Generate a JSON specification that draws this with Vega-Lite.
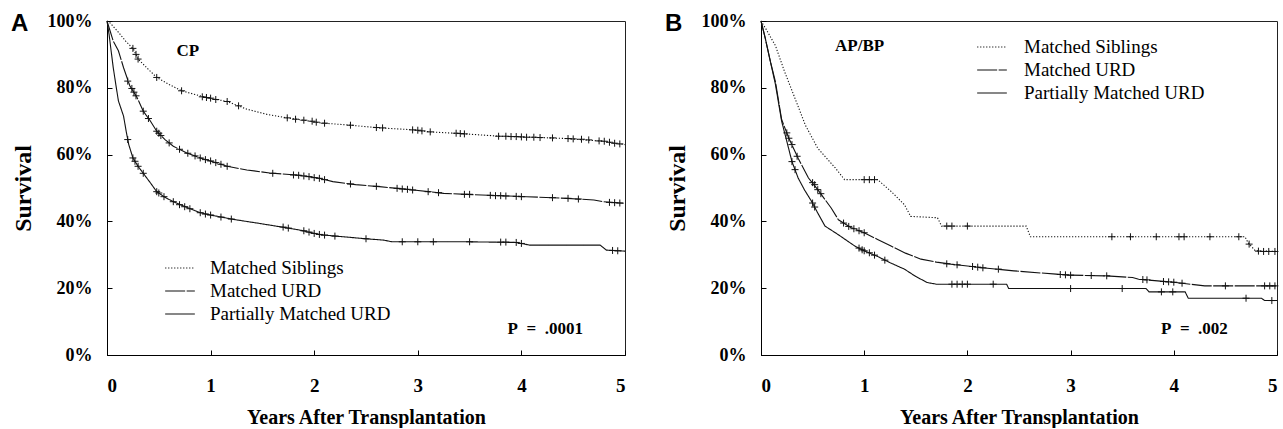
{
  "$schema": "https://vega.github.io/schema/vega-lite/v6.json",
  "background": "white",
  "padding": {"left": 10, "top": 11, "right": 0, "bottom": 0},
  "spacing": 36,
  "config": {
    "view": {"stroke": "#222", "strokeWidth": 1},
    "axis": {"grid": false, "labelFont": "Liberation Serif", "labelFontWeight": "bold", "labelColor": "#000", "titleFont": "Liberation Serif", "titleFontWeight": "bold", "titleColor": "#000", "domainColor": "#000", "tickColor": "#000", "tickSize": -5},
    "legend": {"padding": 0},
    "text": {"font": "Liberation Serif", "fontWeight": "bold", "fontSize": 17, "color": "#000"}
  },
  "datasets": {
    "curves": [
      {"panel": "A", "group": "Matched Siblings", "t": 0, "s": 100},
      {"panel": "A", "group": "Matched Siblings", "t": 0.03, "s": 99.4},
      {"panel": "A", "group": "Matched Siblings", "t": 0.1, "s": 97},
      {"panel": "A", "group": "Matched Siblings", "t": 0.18, "s": 94},
      {"panel": "A", "group": "Matched Siblings", "t": 0.255, "s": 91.6},
      {"panel": "A", "group": "Matched Siblings", "t": 0.3, "s": 88.6},
      {"panel": "A", "group": "Matched Siblings", "t": 0.4, "s": 85.5},
      {"panel": "A", "group": "Matched Siblings", "t": 0.48, "s": 83.1},
      {"panel": "A", "group": "Matched Siblings", "t": 0.6, "s": 81},
      {"panel": "A", "group": "Matched Siblings", "t": 0.72, "s": 79.1},
      {"panel": "A", "group": "Matched Siblings", "t": 0.85, "s": 78},
      {"panel": "A", "group": "Matched Siblings", "t": 0.96, "s": 77.1},
      {"panel": "A", "group": "Matched Siblings", "t": 1.16, "s": 75.9},
      {"panel": "A", "group": "Matched Siblings", "t": 1.35, "s": 73.6},
      {"panel": "A", "group": "Matched Siblings", "t": 1.55, "s": 72},
      {"panel": "A", "group": "Matched Siblings", "t": 1.74, "s": 71},
      {"panel": "A", "group": "Matched Siblings", "t": 1.96, "s": 70},
      {"panel": "A", "group": "Matched Siblings", "t": 2.06, "s": 69.5},
      {"panel": "A", "group": "Matched Siblings", "t": 2.35, "s": 68.8},
      {"panel": "A", "group": "Matched Siblings", "t": 2.63, "s": 68},
      {"panel": "A", "group": "Matched Siblings", "t": 2.92, "s": 67.5},
      {"panel": "A", "group": "Matched Siblings", "t": 3.12, "s": 66.8},
      {"panel": "A", "group": "Matched Siblings", "t": 3.41, "s": 66.3},
      {"panel": "A", "group": "Matched Siblings", "t": 3.79, "s": 65.5},
      {"panel": "A", "group": "Matched Siblings", "t": 4.11, "s": 65.2},
      {"panel": "A", "group": "Matched Siblings", "t": 4.44, "s": 64.8},
      {"panel": "A", "group": "Matched Siblings", "t": 4.79, "s": 64},
      {"panel": "A", "group": "Matched Siblings", "t": 4.9, "s": 63.4},
      {"panel": "A", "group": "Matched Siblings", "t": 5, "s": 63},

      {"panel": "A", "group": "Matched URD", "t": 0, "s": 100},
      {"panel": "A", "group": "Matched URD", "t": 0.03, "s": 97},
      {"panel": "A", "group": "Matched URD", "t": 0.06, "s": 94},
      {"panel": "A", "group": "Matched URD", "t": 0.11, "s": 91.1},
      {"panel": "A", "group": "Matched URD", "t": 0.16, "s": 86},
      {"panel": "A", "group": "Matched URD", "t": 0.22, "s": 80.6},
      {"panel": "A", "group": "Matched URD", "t": 0.29, "s": 77.1},
      {"panel": "A", "group": "Matched URD", "t": 0.35, "s": 73},
      {"panel": "A", "group": "Matched URD", "t": 0.42, "s": 70},
      {"panel": "A", "group": "Matched URD", "t": 0.48, "s": 67},
      {"panel": "A", "group": "Matched URD", "t": 0.56, "s": 64.5},
      {"panel": "A", "group": "Matched URD", "t": 0.64, "s": 62.5},
      {"panel": "A", "group": "Matched URD", "t": 0.77, "s": 60.5},
      {"panel": "A", "group": "Matched URD", "t": 0.9, "s": 59},
      {"panel": "A", "group": "Matched URD", "t": 1.03, "s": 57.8},
      {"panel": "A", "group": "Matched URD", "t": 1.16, "s": 56.5},
      {"panel": "A", "group": "Matched URD", "t": 1.35, "s": 55.4},
      {"panel": "A", "group": "Matched URD", "t": 1.57, "s": 54.5},
      {"panel": "A", "group": "Matched URD", "t": 1.86, "s": 53.8},
      {"panel": "A", "group": "Matched URD", "t": 2.05, "s": 52.9},
      {"panel": "A", "group": "Matched URD", "t": 2.18, "s": 51.9},
      {"panel": "A", "group": "Matched URD", "t": 2.4, "s": 51},
      {"panel": "A", "group": "Matched URD", "t": 2.63, "s": 50.4},
      {"panel": "A", "group": "Matched URD", "t": 2.96, "s": 49.4},
      {"panel": "A", "group": "Matched URD", "t": 3.25, "s": 48.4},
      {"panel": "A", "group": "Matched URD", "t": 3.47, "s": 48.1},
      {"panel": "A", "group": "Matched URD", "t": 3.8, "s": 47.7},
      {"panel": "A", "group": "Matched URD", "t": 4.05, "s": 47.4},
      {"panel": "A", "group": "Matched URD", "t": 4.44, "s": 46.9},
      {"panel": "A", "group": "Matched URD", "t": 4.7, "s": 46.4},
      {"panel": "A", "group": "Matched URD", "t": 4.79, "s": 45.9},
      {"panel": "A", "group": "Matched URD", "t": 5, "s": 45.4},

      {"panel": "A", "group": "Partially Matched URD", "t": 0, "s": 100},
      {"panel": "A", "group": "Partially Matched URD", "t": 0.02, "s": 96},
      {"panel": "A", "group": "Partially Matched URD", "t": 0.04, "s": 91},
      {"panel": "A", "group": "Partially Matched URD", "t": 0.06, "s": 86.1},
      {"panel": "A", "group": "Partially Matched URD", "t": 0.085, "s": 81},
      {"panel": "A", "group": "Partially Matched URD", "t": 0.11, "s": 76.1},
      {"panel": "A", "group": "Partially Matched URD", "t": 0.16, "s": 71.5},
      {"panel": "A", "group": "Partially Matched URD", "t": 0.185, "s": 67},
      {"panel": "A", "group": "Partially Matched URD", "t": 0.21, "s": 63},
      {"panel": "A", "group": "Partially Matched URD", "t": 0.25, "s": 59},
      {"panel": "A", "group": "Partially Matched URD", "t": 0.3, "s": 56.5},
      {"panel": "A", "group": "Partially Matched URD", "t": 0.35, "s": 54.4},
      {"panel": "A", "group": "Partially Matched URD", "t": 0.42, "s": 51.5},
      {"panel": "A", "group": "Partially Matched URD", "t": 0.48, "s": 48.9},
      {"panel": "A", "group": "Partially Matched URD", "t": 0.56, "s": 47.2},
      {"panel": "A", "group": "Partially Matched URD", "t": 0.64, "s": 45.9},
      {"panel": "A", "group": "Partially Matched URD", "t": 0.77, "s": 44.2},
      {"panel": "A", "group": "Partially Matched URD", "t": 0.9, "s": 42.6},
      {"panel": "A", "group": "Partially Matched URD", "t": 1.0, "s": 41.9},
      {"panel": "A", "group": "Partially Matched URD", "t": 1.22, "s": 40.6},
      {"panel": "A", "group": "Partially Matched URD", "t": 1.45, "s": 39.5},
      {"panel": "A", "group": "Partially Matched URD", "t": 1.67, "s": 38.4},
      {"panel": "A", "group": "Partially Matched URD", "t": 1.86, "s": 37.4},
      {"panel": "A", "group": "Partially Matched URD", "t": 2.06, "s": 36},
      {"panel": "A", "group": "Partially Matched URD", "t": 2.28, "s": 35.4},
      {"panel": "A", "group": "Partially Matched URD", "t": 2.5, "s": 34.8},
      {"panel": "A", "group": "Partially Matched URD", "t": 2.67, "s": 34.4},
      {"panel": "A", "group": "Partially Matched URD", "t": 2.75, "s": 33.9},
      {"panel": "A", "group": "Partially Matched URD", "t": 3.47, "s": 33.9},
      {"panel": "A", "group": "Partially Matched URD", "t": 3.95, "s": 33.7},
      {"panel": "A", "group": "Partially Matched URD", "t": 4.08, "s": 32.9},
      {"panel": "A", "group": "Partially Matched URD", "t": 4.76, "s": 32.9},
      {"panel": "A", "group": "Partially Matched URD", "t": 4.82, "s": 31.4},
      {"panel": "A", "group": "Partially Matched URD", "t": 5, "s": 31.1},

      {"panel": "B", "group": "Matched Siblings", "t": 0, "s": 100},
      {"panel": "B", "group": "Matched Siblings", "t": 0.05, "s": 97.5},
      {"panel": "B", "group": "Matched Siblings", "t": 0.14, "s": 92.6},
      {"panel": "B", "group": "Matched Siblings", "t": 0.23, "s": 84.7},
      {"panel": "B", "group": "Matched Siblings", "t": 0.33, "s": 76.8},
      {"panel": "B", "group": "Matched Siblings", "t": 0.43, "s": 68.8},
      {"panel": "B", "group": "Matched Siblings", "t": 0.55, "s": 61.9},
      {"panel": "B", "group": "Matched Siblings", "t": 0.72, "s": 56},
      {"panel": "B", "group": "Matched Siblings", "t": 0.81, "s": 52.5},
      {"panel": "B", "group": "Matched Siblings", "t": 1.13, "s": 52.5},
      {"panel": "B", "group": "Matched Siblings", "t": 1.26, "s": 49},
      {"panel": "B", "group": "Matched Siblings", "t": 1.39, "s": 45},
      {"panel": "B", "group": "Matched Siblings", "t": 1.45, "s": 41.5},
      {"panel": "B", "group": "Matched Siblings", "t": 1.71, "s": 41.1},
      {"panel": "B", "group": "Matched Siblings", "t": 1.75, "s": 38.6},
      {"panel": "B", "group": "Matched Siblings", "t": 2.57, "s": 38.6},
      {"panel": "B", "group": "Matched Siblings", "t": 2.61, "s": 35.4},
      {"panel": "B", "group": "Matched Siblings", "t": 4.69, "s": 35.4},
      {"panel": "B", "group": "Matched Siblings", "t": 4.72, "s": 33.6},
      {"panel": "B", "group": "Matched Siblings", "t": 4.79, "s": 31.2},
      {"panel": "B", "group": "Matched Siblings", "t": 5, "s": 31},

      {"panel": "B", "group": "Matched URD", "t": 0, "s": 100},
      {"panel": "B", "group": "Matched URD", "t": 0.04, "s": 95},
      {"panel": "B", "group": "Matched URD", "t": 0.09, "s": 88},
      {"panel": "B", "group": "Matched URD", "t": 0.14, "s": 81.8},
      {"panel": "B", "group": "Matched URD", "t": 0.2, "s": 70.5},
      {"panel": "B", "group": "Matched URD", "t": 0.27, "s": 64.9},
      {"panel": "B", "group": "Matched URD", "t": 0.36, "s": 58.9},
      {"panel": "B", "group": "Matched URD", "t": 0.46, "s": 53},
      {"panel": "B", "group": "Matched URD", "t": 0.55, "s": 49.5},
      {"panel": "B", "group": "Matched URD", "t": 0.68, "s": 44},
      {"panel": "B", "group": "Matched URD", "t": 0.75, "s": 40.5},
      {"panel": "B", "group": "Matched URD", "t": 0.87, "s": 38.2},
      {"panel": "B", "group": "Matched URD", "t": 1.0, "s": 36.6},
      {"panel": "B", "group": "Matched URD", "t": 1.13, "s": 34.6},
      {"panel": "B", "group": "Matched URD", "t": 1.26, "s": 32.6},
      {"panel": "B", "group": "Matched URD", "t": 1.4, "s": 30.5},
      {"panel": "B", "group": "Matched URD", "t": 1.55, "s": 28.7},
      {"panel": "B", "group": "Matched URD", "t": 1.7, "s": 27.8},
      {"panel": "B", "group": "Matched URD", "t": 1.84, "s": 27.2},
      {"panel": "B", "group": "Matched URD", "t": 2.12, "s": 26.2},
      {"panel": "B", "group": "Matched URD", "t": 2.45, "s": 25.2},
      {"panel": "B", "group": "Matched URD", "t": 2.86, "s": 24.2},
      {"panel": "B", "group": "Matched URD", "t": 3.0, "s": 23.9},
      {"panel": "B", "group": "Matched URD", "t": 3.34, "s": 23.7},
      {"panel": "B", "group": "Matched URD", "t": 3.6, "s": 23.2},
      {"panel": "B", "group": "Matched URD", "t": 3.66, "s": 22.7},
      {"panel": "B", "group": "Matched URD", "t": 4.02, "s": 21.7},
      {"panel": "B", "group": "Matched URD", "t": 4.3, "s": 20.7},
      {"panel": "B", "group": "Matched URD", "t": 5, "s": 20.7},

      {"panel": "B", "group": "Partially Matched URD", "t": 0, "s": 100},
      {"panel": "B", "group": "Partially Matched URD", "t": 0.04, "s": 95},
      {"panel": "B", "group": "Partially Matched URD", "t": 0.09, "s": 88},
      {"panel": "B", "group": "Partially Matched URD", "t": 0.14, "s": 81},
      {"panel": "B", "group": "Partially Matched URD", "t": 0.2, "s": 70},
      {"panel": "B", "group": "Partially Matched URD", "t": 0.25, "s": 64},
      {"panel": "B", "group": "Partially Matched URD", "t": 0.3, "s": 57.9},
      {"panel": "B", "group": "Partially Matched URD", "t": 0.36, "s": 53},
      {"panel": "B", "group": "Partially Matched URD", "t": 0.42, "s": 49.5},
      {"panel": "B", "group": "Partially Matched URD", "t": 0.49, "s": 46},
      {"panel": "B", "group": "Partially Matched URD", "t": 0.55, "s": 42.5},
      {"panel": "B", "group": "Partially Matched URD", "t": 0.62, "s": 38.6},
      {"panel": "B", "group": "Partially Matched URD", "t": 0.75, "s": 36},
      {"panel": "B", "group": "Partially Matched URD", "t": 0.91, "s": 32.6},
      {"panel": "B", "group": "Partially Matched URD", "t": 1.0, "s": 31.2},
      {"panel": "B", "group": "Partially Matched URD", "t": 1.13, "s": 29.5},
      {"panel": "B", "group": "Partially Matched URD", "t": 1.26, "s": 27.5},
      {"panel": "B", "group": "Partially Matched URD", "t": 1.39, "s": 25.7},
      {"panel": "B", "group": "Partially Matched URD", "t": 1.5, "s": 23.5},
      {"panel": "B", "group": "Partially Matched URD", "t": 1.61, "s": 21.7},
      {"panel": "B", "group": "Partially Matched URD", "t": 1.7, "s": 21.2},
      {"panel": "B", "group": "Partially Matched URD", "t": 2.38, "s": 21.2},
      {"panel": "B", "group": "Partially Matched URD", "t": 2.4, "s": 19.9},
      {"panel": "B", "group": "Partially Matched URD", "t": 3.73, "s": 19.9},
      {"panel": "B", "group": "Partially Matched URD", "t": 3.76, "s": 18.9},
      {"panel": "B", "group": "Partially Matched URD", "t": 4.11, "s": 18.9},
      {"panel": "B", "group": "Partially Matched URD", "t": 4.14, "s": 17},
      {"panel": "B", "group": "Partially Matched URD", "t": 4.85, "s": 17},
      {"panel": "B", "group": "Partially Matched URD", "t": 4.88, "s": 16.3},
      {"panel": "B", "group": "Partially Matched URD", "t": 5, "s": 16.3}
    ],
    "censors": [
      {"panel": "A", "t": 0.25, "s": 91.8}, {"panel": "A", "t": 0.28, "s": 90}, {"panel": "A", "t": 0.3, "s": 88.6}, {"panel": "A", "t": 0.48, "s": 83.1}, {"panel": "A", "t": 0.72, "s": 79.1}, {"panel": "A", "t": 0.92, "s": 77.3}, {"panel": "A", "t": 0.96, "s": 77.1}, {"panel": "A", "t": 1.0, "s": 76.9}, {"panel": "A", "t": 1.05, "s": 76.5}, {"panel": "A", "t": 1.16, "s": 75.9}, {"panel": "A", "t": 1.27, "s": 74.6}, {"panel": "A", "t": 1.74, "s": 71}, {"panel": "A", "t": 1.82, "s": 70.6}, {"panel": "A", "t": 1.9, "s": 70.3}, {"panel": "A", "t": 1.98, "s": 70}, {"panel": "A", "t": 2.02, "s": 69.7}, {"panel": "A", "t": 2.1, "s": 69.4}, {"panel": "A", "t": 2.35, "s": 68.8}, {"panel": "A", "t": 2.6, "s": 68.1}, {"panel": "A", "t": 2.66, "s": 68}, {"panel": "A", "t": 2.95, "s": 67.4}, {"panel": "A", "t": 3.0, "s": 67.3}, {"panel": "A", "t": 3.04, "s": 67.1}, {"panel": "A", "t": 3.12, "s": 66.8}, {"panel": "A", "t": 3.37, "s": 66.4}, {"panel": "A", "t": 3.41, "s": 66.3}, {"panel": "A", "t": 3.45, "s": 66.2}, {"panel": "A", "t": 3.78, "s": 65.5}, {"panel": "A", "t": 3.85, "s": 65.5}, {"panel": "A", "t": 3.9, "s": 65.4}, {"panel": "A", "t": 3.95, "s": 65.4}, {"panel": "A", "t": 4.0, "s": 65.3}, {"panel": "A", "t": 4.05, "s": 65.2}, {"panel": "A", "t": 4.12, "s": 65.2}, {"panel": "A", "t": 4.18, "s": 65.1}, {"panel": "A", "t": 4.3, "s": 65}, {"panel": "A", "t": 4.45, "s": 64.8}, {"panel": "A", "t": 4.5, "s": 64.7}, {"panel": "A", "t": 4.58, "s": 64.6}, {"panel": "A", "t": 4.65, "s": 64.4}, {"panel": "A", "t": 4.75, "s": 64.1}, {"panel": "A", "t": 4.8, "s": 64}, {"panel": "A", "t": 4.85, "s": 63.7}, {"panel": "A", "t": 4.9, "s": 63.4}, {"panel": "A", "t": 4.95, "s": 63.2},
      {"panel": "A", "t": 0.2, "s": 82}, {"panel": "A", "t": 0.24, "s": 79.8}, {"panel": "A", "t": 0.26, "s": 78.7}, {"panel": "A", "t": 0.28, "s": 77.6}, {"panel": "A", "t": 0.35, "s": 73}, {"panel": "A", "t": 0.4, "s": 70.8}, {"panel": "A", "t": 0.48, "s": 67}, {"panel": "A", "t": 0.5, "s": 66.4}, {"panel": "A", "t": 0.52, "s": 65.7}, {"panel": "A", "t": 0.6, "s": 63.5}, {"panel": "A", "t": 0.7, "s": 61.6}, {"panel": "A", "t": 0.78, "s": 60.4}, {"panel": "A", "t": 0.85, "s": 59.6}, {"panel": "A", "t": 0.9, "s": 59}, {"panel": "A", "t": 0.95, "s": 58.5}, {"panel": "A", "t": 1.0, "s": 58.1}, {"panel": "A", "t": 1.05, "s": 57.6}, {"panel": "A", "t": 1.1, "s": 57.1}, {"panel": "A", "t": 1.16, "s": 56.5}, {"panel": "A", "t": 1.6, "s": 54.4}, {"panel": "A", "t": 1.8, "s": 53.9}, {"panel": "A", "t": 1.85, "s": 53.8}, {"panel": "A", "t": 1.9, "s": 53.6}, {"panel": "A", "t": 1.95, "s": 53.4}, {"panel": "A", "t": 2.0, "s": 53.1}, {"panel": "A", "t": 2.05, "s": 52.9}, {"panel": "A", "t": 2.1, "s": 52.5}, {"panel": "A", "t": 2.35, "s": 51.2}, {"panel": "A", "t": 2.6, "s": 50.5}, {"panel": "A", "t": 2.8, "s": 49.9}, {"panel": "A", "t": 2.85, "s": 49.7}, {"panel": "A", "t": 2.9, "s": 49.6}, {"panel": "A", "t": 2.95, "s": 49.4}, {"panel": "A", "t": 3.1, "s": 48.9}, {"panel": "A", "t": 3.2, "s": 48.6}, {"panel": "A", "t": 3.45, "s": 48.1}, {"panel": "A", "t": 3.5, "s": 48.1}, {"panel": "A", "t": 3.7, "s": 47.8}, {"panel": "A", "t": 3.75, "s": 47.7}, {"panel": "A", "t": 3.8, "s": 47.7}, {"panel": "A", "t": 3.85, "s": 47.6}, {"panel": "A", "t": 3.95, "s": 47.5}, {"panel": "A", "t": 4.0, "s": 47.4}, {"panel": "A", "t": 4.3, "s": 47.1}, {"panel": "A", "t": 4.45, "s": 46.9}, {"panel": "A", "t": 4.55, "s": 46.7}, {"panel": "A", "t": 4.85, "s": 45.7}, {"panel": "A", "t": 4.9, "s": 45.6}, {"panel": "A", "t": 4.95, "s": 45.5},
      {"panel": "A", "t": 0.2, "s": 64.5}, {"panel": "A", "t": 0.25, "s": 59}, {"panel": "A", "t": 0.27, "s": 58}, {"panel": "A", "t": 0.3, "s": 56.5}, {"panel": "A", "t": 0.35, "s": 54.4}, {"panel": "A", "t": 0.48, "s": 48.9}, {"panel": "A", "t": 0.5, "s": 48.5}, {"panel": "A", "t": 0.55, "s": 47.4}, {"panel": "A", "t": 0.64, "s": 45.9}, {"panel": "A", "t": 0.7, "s": 45}, {"panel": "A", "t": 0.75, "s": 44.4}, {"panel": "A", "t": 0.8, "s": 43.8}, {"panel": "A", "t": 0.9, "s": 42.6}, {"panel": "A", "t": 0.95, "s": 42.2}, {"panel": "A", "t": 1.0, "s": 41.9}, {"panel": "A", "t": 1.1, "s": 41.3}, {"panel": "A", "t": 1.2, "s": 40.7}, {"panel": "A", "t": 1.7, "s": 38.3}, {"panel": "A", "t": 1.75, "s": 38}, {"panel": "A", "t": 1.9, "s": 37.2}, {"panel": "A", "t": 1.95, "s": 36.8}, {"panel": "A", "t": 2.0, "s": 36.4}, {"panel": "A", "t": 2.05, "s": 36.1}, {"panel": "A", "t": 2.1, "s": 35.9}, {"panel": "A", "t": 2.2, "s": 35.6}, {"panel": "A", "t": 2.5, "s": 34.8}, {"panel": "A", "t": 2.85, "s": 33.9}, {"panel": "A", "t": 3.0, "s": 33.9}, {"panel": "A", "t": 3.15, "s": 33.9}, {"panel": "A", "t": 3.5, "s": 33.9}, {"panel": "A", "t": 3.8, "s": 33.8}, {"panel": "A", "t": 3.85, "s": 33.8}, {"panel": "A", "t": 3.95, "s": 33.7}, {"panel": "A", "t": 4.0, "s": 33.4}, {"panel": "A", "t": 4.88, "s": 31.3}, {"panel": "A", "t": 4.93, "s": 31.2},
      {"panel": "B", "t": 1.0, "s": 52.5}, {"panel": "B", "t": 1.05, "s": 52.5}, {"panel": "B", "t": 1.1, "s": 52.5}, {"panel": "B", "t": 1.8, "s": 38.6}, {"panel": "B", "t": 1.85, "s": 38.6}, {"panel": "B", "t": 2.0, "s": 38.6}, {"panel": "B", "t": 3.4, "s": 35.4}, {"panel": "B", "t": 3.58, "s": 35.4}, {"panel": "B", "t": 3.83, "s": 35.4}, {"panel": "B", "t": 4.05, "s": 35.4}, {"panel": "B", "t": 4.1, "s": 35.4}, {"panel": "B", "t": 4.35, "s": 35.4}, {"panel": "B", "t": 4.63, "s": 35.4}, {"panel": "B", "t": 4.73, "s": 33.2}, {"panel": "B", "t": 4.82, "s": 31.1}, {"panel": "B", "t": 4.87, "s": 31}, {"panel": "B", "t": 4.92, "s": 31}, {"panel": "B", "t": 4.98, "s": 31},
      {"panel": "B", "t": 0.25, "s": 66.5}, {"panel": "B", "t": 0.27, "s": 64.9}, {"panel": "B", "t": 0.3, "s": 63}, {"panel": "B", "t": 0.35, "s": 59.5}, {"panel": "B", "t": 0.5, "s": 51.6}, {"panel": "B", "t": 0.52, "s": 51}, {"panel": "B", "t": 0.55, "s": 49.5}, {"panel": "B", "t": 0.58, "s": 48.3}, {"panel": "B", "t": 0.8, "s": 39.5}, {"panel": "B", "t": 0.85, "s": 38.5}, {"panel": "B", "t": 0.9, "s": 37.8}, {"panel": "B", "t": 0.95, "s": 37.2}, {"panel": "B", "t": 1.0, "s": 36.6}, {"panel": "B", "t": 1.8, "s": 27.3}, {"panel": "B", "t": 1.9, "s": 27}, {"panel": "B", "t": 2.05, "s": 26.5}, {"panel": "B", "t": 2.1, "s": 26.3}, {"panel": "B", "t": 2.15, "s": 26.1}, {"panel": "B", "t": 2.3, "s": 25.7}, {"panel": "B", "t": 2.9, "s": 24.1}, {"panel": "B", "t": 2.95, "s": 24}, {"panel": "B", "t": 3.0, "s": 23.9}, {"panel": "B", "t": 3.2, "s": 23.8}, {"panel": "B", "t": 3.35, "s": 23.7}, {"panel": "B", "t": 3.7, "s": 22.6}, {"panel": "B", "t": 3.74, "s": 22.5}, {"panel": "B", "t": 3.9, "s": 22}, {"panel": "B", "t": 3.95, "s": 21.9}, {"panel": "B", "t": 4.0, "s": 21.8}, {"panel": "B", "t": 4.08, "s": 21.5}, {"panel": "B", "t": 4.5, "s": 20.7}, {"panel": "B", "t": 4.88, "s": 20.7}, {"panel": "B", "t": 4.93, "s": 20.7}, {"panel": "B", "t": 4.98, "s": 20.7},
      {"panel": "B", "t": 0.3, "s": 57.9}, {"panel": "B", "t": 0.33, "s": 55.5}, {"panel": "B", "t": 0.5, "s": 45.5}, {"panel": "B", "t": 0.52, "s": 44.3}, {"panel": "B", "t": 0.95, "s": 32}, {"panel": "B", "t": 0.98, "s": 31.5}, {"panel": "B", "t": 1.0, "s": 31.2}, {"panel": "B", "t": 1.05, "s": 30.6}, {"panel": "B", "t": 1.1, "s": 29.9}, {"panel": "B", "t": 1.2, "s": 28.4}, {"panel": "B", "t": 1.85, "s": 21.2}, {"panel": "B", "t": 1.9, "s": 21.2}, {"panel": "B", "t": 1.95, "s": 21.2}, {"panel": "B", "t": 2.0, "s": 21.2}, {"panel": "B", "t": 2.25, "s": 21.2}, {"panel": "B", "t": 3.0, "s": 19.9}, {"panel": "B", "t": 3.5, "s": 19.9}, {"panel": "B", "t": 3.88, "s": 18.9}, {"panel": "B", "t": 3.99, "s": 18.9}, {"panel": "B", "t": 4.7, "s": 17}, {"panel": "B", "t": 4.95, "s": 16.3}
    ],
    "notes": [
      {"panel": "A", "t": 0.78, "s": 91, "label": "CP"},
      {"panel": "A", "t": 4.23, "s": 7.7, "label": "P\u00a0\u00a0=\u00a0\u00a0.0001"},
      {"panel": "B", "t": 0.955, "s": 92.6, "label": "AP/BP"},
      {"panel": "B", "t": 4.2, "s": 7.8, "label": "P\u00a0\u00a0=\u00a0\u00a0.002"}
    ]
  },
  "resolve": {"legend": {"strokeDash": "independent"}},
  "hconcat": [
    {
      "title": {"text": "A", "anchor": "start", "frame": "bounds", "font": "Liberation Sans", "fontSize": 24, "fontWeight": "bold", "color": "#000", "offset": -24},
      "width": 518,
      "height": 334,
      "encoding": {
        "x": {"field": "t", "type": "quantitative", "scale": {"domain": [0, 5], "nice": false}, "axis": {"values": [0, 1, 2, 3, 4, 5], "format": "d", "title": "Years After Transplantation", "labelFontSize": 19, "labelPadding": 26, "titleFontSize": 20, "titlePadding": 12}},
        "y": {"field": "s", "type": "quantitative", "scale": {"domain": [0, 100], "nice": false}, "axis": {"values": [0, 20, 40, 60, 80, 100], "labelExpr": "datum.value + '%'", "title": "Survival", "labelFontSize": 18, "labelPadding": 20, "titleFontSize": 24, "titlePadding": 12}}
      },
      "layer": [
        {
          "data": {"name": "curves"},
          "transform": [{"filter": "datum.panel === 'A'"}],
          "mark": {"type": "line", "stroke": "#111", "strokeWidth": 1.1},
          "encoding": {
            "strokeDash": {"field": "group", "type": "nominal", "scale": {"domain": ["Matched Siblings", "Matched URD", "Partially Matched URD"], "range": [[1.2, 1.8], [20, 1.5], [1, 0]]},
              "legend": {"orient": "none", "legendX": 61, "legendY": 235, "title": null, "symbolType": "M-1.35,0H1.35", "symbolSize": 484, "symbolStrokeWidth": 1.1, "symbolStrokeColor": "#111", "labelFont": "Liberation Serif", "labelFontSize": 19, "labelColor": "#000", "labelOffset": 18, "labelLimit": 0, "rowPadding": 1}}
          }
        },
        {
          "data": {"name": "censors"},
          "transform": [{"filter": "datum.panel === 'A'"}],
          "mark": {"type": "point", "shape": "M-1,0L1,0M0,-1L0,1", "filled": false, "stroke": "#111", "strokeWidth": 1, "size": 49, "opacity": 1}
        },
        {
          "data": {"name": "notes"},
          "transform": [{"filter": "datum.panel === 'A'"}],
          "mark": {"type": "text"},
          "encoding": {"text": {"field": "label"}}
        }
      ]
    },
    {
      "title": {"text": "B", "anchor": "start", "frame": "bounds", "font": "Liberation Sans", "fontSize": 24, "fontWeight": "bold", "color": "#000", "offset": -24},
      "width": 516,
      "height": 334,
      "encoding": {
        "x": {"field": "t", "type": "quantitative", "scale": {"domain": [0, 5], "nice": false}, "axis": {"values": [0, 1, 2, 3, 4, 5], "format": "d", "title": "Years After Transplantation", "labelFontSize": 19, "labelPadding": 26, "titleFontSize": 20, "titlePadding": 12}},
        "y": {"field": "s", "type": "quantitative", "scale": {"domain": [0, 100], "nice": false}, "axis": {"values": [0, 20, 40, 60, 80, 100], "labelExpr": "datum.value + '%'", "title": "Survival", "labelFontSize": 18, "labelPadding": 20, "titleFontSize": 24, "titlePadding": 12}}
      },
      "layer": [
        {
          "data": {"name": "curves"},
          "transform": [{"filter": "datum.panel === 'B'"}],
          "mark": {"type": "line", "stroke": "#111", "strokeWidth": 1.1},
          "encoding": {
            "strokeDash": {"field": "group", "type": "nominal", "scale": {"domain": ["Matched Siblings", "Matched URD", "Partially Matched URD"], "range": [[1.2, 1.8], [20, 1.5], [1, 0]]},
              "legend": {"orient": "none", "legendX": 219, "legendY": 14, "title": null, "symbolType": "M-1.35,0H1.35", "symbolSize": 484, "symbolStrokeWidth": 1.1, "symbolStrokeColor": "#111", "labelFont": "Liberation Serif", "labelFontSize": 19, "labelColor": "#000", "labelOffset": 20, "labelLimit": 0, "rowPadding": 1}}
          }
        },
        {
          "data": {"name": "censors"},
          "transform": [{"filter": "datum.panel === 'B'"}],
          "mark": {"type": "point", "shape": "M-1,0L1,0M0,-1L0,1", "filled": false, "stroke": "#111", "strokeWidth": 1, "size": 49, "opacity": 1}
        },
        {
          "data": {"name": "notes"},
          "transform": [{"filter": "datum.panel === 'B'"}],
          "mark": {"type": "text"},
          "encoding": {"text": {"field": "label"}}
        }
      ]
    }
  ]
}
